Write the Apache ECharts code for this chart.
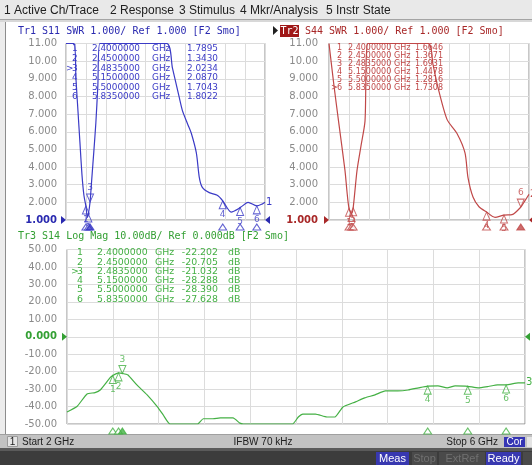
<!DOCTYPE html>
<html><head><meta charset="utf-8">
<script src="https://cdn.jsdelivr.net/npm/echarts@6/dist/echarts.min.js"></script>
<style>html,body{margin:0;padding:0;background:#fff;}#c{width:532px;height:465px;}</style>
</head><body><div id="c"></div>
<script>
// ---- data ----
const menuItems = ['1 Active Ch/Trace', '2 Response', '3 Stimulus', '4 Mkr/Analysis', '5 Instr State'];
const menuX = [4, 110, 179, 240, 326];

const mkNum = ['1', '2', '3', '4', '5', '6'];
const mkFreq = [2.4, 2.45, 2.4835, 5.15, 5.5, 5.835];
const s11Mk = [1.7895, 1.3430, 2.0234, 2.0870, 1.7043, 1.8022];
const s44Mk = [1.6646, 1.3671, 1.6931, 1.4478, 1.2816, 1.7308];
const s14Mk = [-22.202, -20.705, -21.032, -28.288, -28.390, -27.628];

const s11Freq = [2.00, 2.16, 2.20, 2.24, 2.28, 2.32, 2.36, 2.40, 2.43, 2.45, 2.4835, 2.52, 2.56, 2.60, 2.64, 2.68, 4.02, 4.14, 4.28, 4.34, 4.45, 4.52, 4.62, 4.68, 4.74, 4.88, 5.04, 5.15, 5.32, 5.50, 5.66, 5.835, 5.94, 6.00];
const s11Swr  = [11, 11, 9.0, 7.2, 5.4, 3.6, 2.4, 1.79, 1.15, 1.34, 2.02, 3.4, 4.9, 6.5, 8.6, 11, 11, 9.6, 7.9, 7.2, 6.4, 5.9, 4.8, 3.4, 2.85, 2.55, 2.4, 2.09, 1.45, 1.70, 2.0, 1.80, 1.9, 2.0];

const s44Freq = [2.00, 2.10, 2.20, 2.32, 2.36, 2.40, 2.45, 2.4835, 2.56, 2.64, 2.72, 2.78, 3.98, 4.08, 4.18, 4.36, 4.56, 4.72, 4.78, 4.88, 5.00, 5.15, 5.32, 5.50, 5.66, 5.835, 5.92, 6.00];
const s44Swr  = [11, 8.6, 6.4, 3.8, 2.6, 1.66, 1.37, 1.69, 3.8, 5.2, 6.6, 11, 11, 9.8, 8.5, 6.7, 5.9, 4.8, 3.4, 2.3, 1.75, 1.45, 1.15, 1.28, 1.3, 1.73, 2.1, 2.45];

const s14Freq = [2.00, 2.087, 2.175, 2.245, 2.29, 2.375, 2.40, 2.45, 2.4835, 2.53, 2.61, 2.70, 2.79, 2.84, 2.90, 3.14, 3.19, 3.275, 3.34, 3.45, 3.51, 3.54, 3.97, 4.02, 4.06, 4.17, 4.27, 4.34, 4.41, 4.52, 4.60, 4.69, 4.78, 4.89, 4.98, 5.07, 5.15, 5.24, 5.32, 5.39, 5.50, 5.59, 5.68, 5.76, 5.835, 5.94, 6.00];
const s14Db   = [-43.1, -40, -32.8, -32, -30.5, -23.6, -22.2, -20.7, -21.0, -21.8, -27.6, -33.3, -40.2, -44.8, -50, -50, -47, -47, -46.5, -46.5, -49.5, -50, -50, -46, -44.3, -44.3, -46, -46, -40.2, -37.3, -35, -33.3, -31, -31, -30.5, -29.3, -28.3, -28.2, -29.3, -28.2, -28.4, -29.3, -28.5, -27.6, -27.6, -26.4, -26.4];

const titles = ['Tr1 S11 SWR 1.000/ Ref 1.000 [F2 Smo]', 'S44 SWR 1.000/ Ref 1.000 [F2 Smo]', 'Tr3 S14 Log Mag 10.00dB/ Ref 0.000dB [F2 Smo]'];
const statusTexts = ['Start 2 GHz', 'IFBW 70 kHz', 'Stop 6 GHz'];
const buttons = ['Meas', 'Stop', 'ExtRef', 'Ready'];

// ---- colors ----
const BLUE = '#3b3bc6', BLUE_T = '#2a2ab0';
const RED = '#c04848', RED_T = '#a82828';
const GREEN = '#44b044', GREEN_T = '#34a034';
const GRIDC = '#dcdcdc', LABC = '#8a8a8a';

const zip = (a, b) => a.map((v, i) => [v, b[i]]);

function fmtTop(v) {
  const s = v >= 10 ? v.toFixed(2) : v.toFixed(3);
  return v === 1 ? '{r|' + s + '}' : s;
}
function fmtBot(v) {
  const s = Math.abs(v) >= 10 ? v.toFixed(2) : v.toFixed(3);
  return v === 0 ? '{r|' + s + '}' : s;
}

const grids = [
  { left: 66, top: 43.5, width: 199, height: 176.5 },
  { left: 329, top: 43.5, width: 200, height: 176.5 },
  { left: 67, top: 249.5, width: 458, height: 174.5 }
];
grids.forEach(g => { g.show = true; g.borderColor = '#8e8e8e'; g.borderWidth = 1; g.backgroundColor = '#fff'; });

function xAx(i) {
  return { type: 'value', gridIndex: i, min: 2, max: 6, interval: 0.4,
    axisLine: { show: false }, axisTick: { show: false }, axisLabel: { show: false },
    splitLine: { show: true, lineStyle: { color: GRIDC, width: 1 } } };
}
function yAx(i, min, max, interval, fmt, refColor, margin) {
  return { type: 'value', gridIndex: i, min, max, interval,
    axisLine: { show: false }, axisTick: { show: false },
    axisLabel: { formatter: fmt, color: LABC, fontFamily: 'DejaVu Sans', fontSize: 10, margin,
      rich: { r: { color: refColor, fontWeight: 'bold', fontFamily: 'DejaVu Sans', fontSize: 10 } } },
    splitLine: { show: true, lineStyle: { color: GRIDC, width: 1 } } };
}

const TRI_UP = 'path://M0,0 L4,8 L-4,8 Z';
const TRI_DN = 'path://M-4,0 L4,0 L0,8 Z';

function markerSeries(idx, vals, color, active) {
  const data = mkFreq.map((f, i) => {
    const isA = i === active;
    return { value: [f, vals[i]], symbol: isA ? TRI_DN : TRI_UP, symbolOffset: [0, isA ? -4 : 4],
      label: { show: true, formatter: mkNum[i], position: isA ? 'top' : 'bottom', distance: 1,
        color: color, fontSize: 9, fontFamily: 'DejaVu Sans' } };
  });
  return { type: 'scatter', xAxisIndex: idx, yAxisIndex: idx, data, symbolSize: [7, 8], z: 5,
    itemStyle: { color: 'rgba(255,255,255,0)', borderColor: color, borderWidth: 1 }, silent: true };
}
function stimSeries(idx, ymin, color, active) {
  const data = mkFreq.map((f, i) => ({ value: [f, ymin],
    itemStyle: { color: i === active ? color : '#fff', borderColor: color, borderWidth: 1 } }));
  return { type: 'scatter', xAxisIndex: idx, yAxisIndex: idx, data, symbol: TRI_UP, symbolSize: [8, 6],
    symbolOffset: [0, 7], clip: false, z: 5, silent: true };
}
function traceSeries(idx, fr, vals, color, endTxt, smooth) {
  return { type: 'line', xAxisIndex: idx, yAxisIndex: idx, data: zip(fr, vals), symbol: 'none', smooth,
    lineStyle: { color, width: 1.2 }, z: 3, silent: true,
    endLabel: { show: true, formatter: endTxt, color, fontSize: 10, fontFamily: 'DejaVu Sans', distance: 1 } };
}

// ---- graphics ----
const G = [];
function rect(x, y, w, h, fill, stroke) { G.push({ type: 'rect', shape: { x, y, width: w, height: h }, style: { fill, stroke: stroke || null, lineWidth: 1 }, silent: true, z: 0 }); }
function txt(text, x, y, font, fill, align, z) { G.push({ type: 'text', x, y, style: { text, font, fill, textAlign: align || 'left', textVerticalAlign: 'middle' }, silent: true, z: z || 10 }); }

// frame
rect(0, 0, 532, 20, '#e9e9e9');
rect(0, 19, 532, 1, '#a4a4a4');
rect(0, 20, 532, 2, '#d8d8d8');
rect(0, 22, 5, 413, '#ececec');
rect(5, 22, 1, 413, '#8c8c8c');
menuItems.forEach((m, i) => txt(m, menuX[i], 11, '12px "Liberation Sans"', '#202020'));

// status bar
rect(0, 434, 532, 1, '#a0a0a0');
rect(0, 435, 532, 13, '#c2c2c2');
rect(7.5, 436.5, 10, 10, '#e4e4e4', '#9a9a9a');
txt('1', 12.5, 442, '10px "Liberation Sans"', '#202020', 'center');
txt(statusTexts[0], 22, 442, '10px "Liberation Sans"', '#202020');
txt(statusTexts[1], 263, 442, '10px "Liberation Sans"', '#202020', 'center');
txt(statusTexts[2], 498, 442, '10px "Liberation Sans"', '#202020', 'right');
rect(504, 437, 21, 10, '#3434b4');
txt('Cor', 514.5, 442, '10px "Liberation Sans"', '#ffffff', 'center');
rect(527, 437, 6, 10, '#e4e4e4');
// bottom dark bar
rect(0, 448, 532, 3, '#5a5a5a');
rect(0, 451, 532, 14, '#3c3c3c');
const btnX = [376, 412, 439, 486], btnW = [33, 25, 46, 35];
const btnFill = ['#3838b0', '#4a4a4a', '#4a4a4a', '#3838b0'], btnTxt = ['#ffffff', '#707070', '#707070', '#ffffff'];
buttons.forEach((b, i) => { rect(btnX[i], 452, btnW[i], 13, btnFill[i]); txt(b, btnX[i] + btnW[i] / 2, 459, '11px "Liberation Sans"', btnTxt[i], 'center'); });
rect(523, 452, 9, 13, '#4a4a4a');

// titles
const MONO = '10px "DejaVu Sans Mono"';
txt(titles[0], 18, 31, MONO, BLUE_T);
G.push({ type: 'polygon', shape: { points: [[273, 26], [278, 30.5], [273, 35]] }, style: { fill: '#202020' }, z: 10, silent: true });
rect(280, 25, 19, 12, '#a01818');
txt('Tr2', 289.5, 31, MONO, '#ffffff', 'center');
txt(titles[1], 305, 31, MONO, RED_T);
txt(titles[2], 18, 236, MONO, GREEN_T);

// marker tables
function table(x0, y0, dy, cols, color, font, active, vals, fmtV, unit) {
  mkFreq.forEach((f, i) => {
    const y = y0 + i * dy;
    if (i === active) txt('>', cols[0] - 6, y, font, color);
    txt(mkNum[i], cols[0], y, font, color);
    txt(f.toFixed(7), cols[1], y, font, color);
    txt('GHz', cols[2], y, font, color);
    txt(fmtV(vals[i]), cols[3], y, font, color, 'right');
    if (unit) txt(unit, cols[4], y, font, color);
  });
}
table(72, 49, 9.6, [72, 92, 152, 218], BLUE, '8.9px "DejaVu Sans"', 2, s11Mk, v => v.toFixed(4));
table(337, 48, 8, [337, 348, 394, 443], RED, '8px "DejaVu Sans"', 5, s44Mk, v => v.toFixed(4));
table(77, 253, 9.25, [77, 97, 155, 218, 228], GREEN, '9.4px "DejaVu Sans"', 2, s14Mk, v => v.toFixed(3), 'dB');

const option = {
  animation: false,
  backgroundColor: '#ffffff',
  grid: grids,
  xAxis: [xAx(0), xAx(1), xAx(2)],
  yAxis: [
    yAx(0, 1, 11, 1, fmtTop, BLUE_T, 9),
    yAx(1, 1, 11, 1, fmtTop, RED_T, 11),
    yAx(2, -50, 50, 10, fmtBot, GREEN_T, 10)
  ],
  series: [
    traceSeries(0, s11Freq, s11Swr, BLUE, '1', 0.25),
    traceSeries(1, s44Freq, s44Swr, RED, '2', 0.25),
    traceSeries(2, s14Freq, s14Db, GREEN, '3', 0.15),
    markerSeries(0, s11Mk, BLUE, 2),
    markerSeries(1, s44Mk, RED, 5),
    markerSeries(2, s14Mk, GREEN, 2),
    stimSeries(0, 1, BLUE, 2),
    stimSeries(1, 1, RED, 5),
    stimSeries(2, -50, GREEN, 2)
  ],
  graphic: G
};
const chart = echarts.init(document.getElementById('c'), null, { renderer: 'canvas' });
chart.setOption(option);

// reference-level arrows computed from the axes
function refArrows(idx, ref, color) {
  const g = grids[idx];
  const py = chart.convertToPixel({ yAxisIndex: idx }, ref);
  const xl = g.left, xr = g.left + g.width;
  return [
    { type: 'polygon', shape: { points: [[xl - 5, py - 4], [xl, py], [xl - 5, py + 4]] }, style: { fill: color }, z: 20, silent: true },
    { type: 'polygon', shape: { points: [[xr + 5, py - 4], [xr, py], [xr + 5, py + 4]] }, style: { fill: color }, z: 20, silent: true }
  ];
}
chart.setOption({ graphic: G.concat(refArrows(0, 1, BLUE_T), refArrows(1, 1, RED_T), refArrows(2, 0, GREEN_T)) });
</script></body></html>
